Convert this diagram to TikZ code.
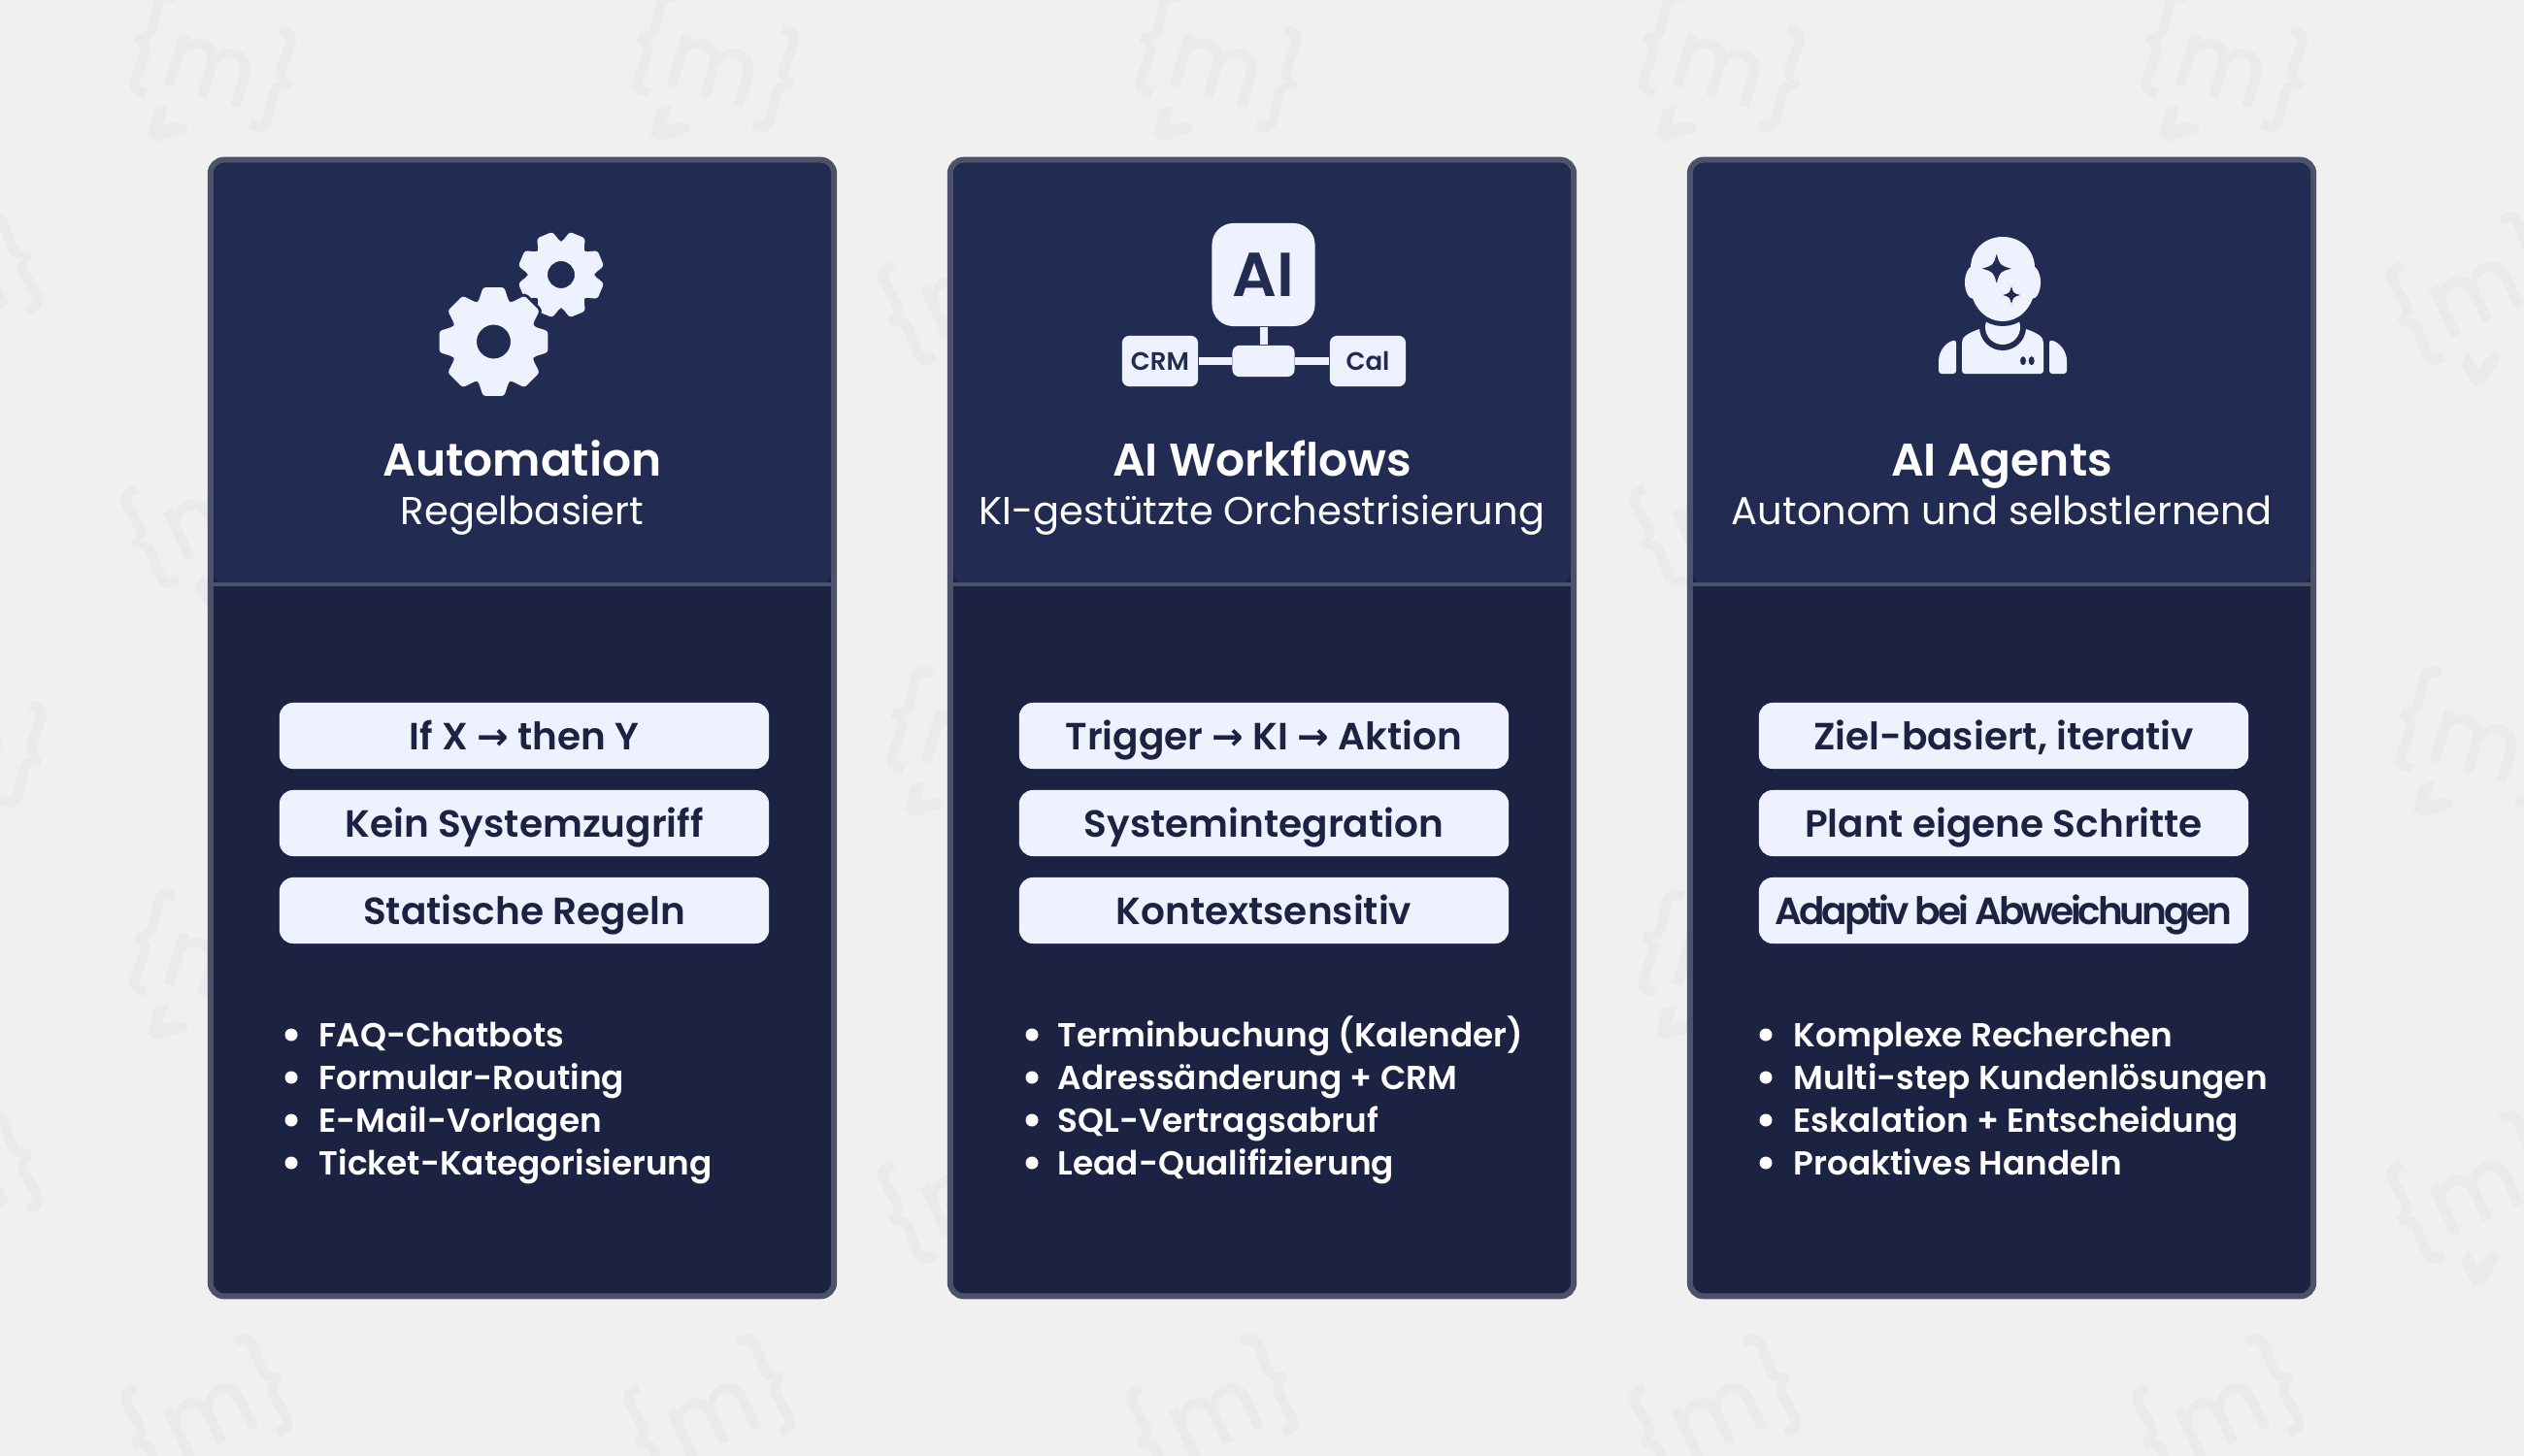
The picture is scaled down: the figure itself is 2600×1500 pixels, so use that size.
\documentclass[tikz,border=0pt]{standalone}
\usepackage{fontspec}
\setmainfont{Poppins}
\newfontfamily\medfont{Poppins Medium}
\newfontfamily\boldfont{Poppins SemiBold}
\newfontfamily\arrowfont{DejaVu Sans}
\usepackage{tikz}

\definecolor{bgfill}{HTML}{F0F0F0}
\definecolor{wmark}{HTML}{E9EAEC}
\definecolor{headfill}{HTML}{222C52}
\definecolor{bodyfill}{HTML}{1C2342}
\definecolor{rimcol}{HTML}{4B5269}
\definecolor{iconcol}{HTML}{EEF2FF}

\tikzstyle{card}=[draw=rimcol, fill=bodyfill, line width=0.06cm,
                  rounded corners=0.14cm, minimum width=6.42cm,
                  minimum height=11.7cm, inner sep=0pt]
\tikzstyle{pill}=[fill=iconcol, rounded corners=0.14cm, minimum width=5.04cm,
                  minimum height=0.68cm, inner sep=0pt, text=bodyfill,
                  text height=0.39cm, text depth=0.10cm,
                  font=\boldfont\fontsize{11.1}{13}\selectfont]
\tikzstyle{title}=[anchor=base, text=white, inner sep=0pt,
                   font=\boldfont\fontsize{13.4}{16}\selectfont]
\tikzstyle{subtitle}=[anchor=base, text=white, inner sep=0pt,
                      font=\fontsize{11.4}{13}\selectfont]
\tikzstyle{item}=[anchor=base west, text=white, inner sep=0pt,
                  font=\boldfont\fontsize{9.75}{12}\selectfont]
\tikzstyle{dot}=[circle, fill=white, minimum size=0.13cm, inner sep=0pt]
\tikzstyle{iconbox}=[fill=iconcol, inner sep=0pt, text=headfill]
\tikzstyle{iconedge}=[draw=iconcol, line width=0.08cm]
\tikzstyle{wmtext}=[anchor=base, inner sep=0pt, text=wmark, transform shape, xscale=0.92,
                    font=\medfont\fontsize{28.5}{32}\selectfont]

\newcommand{\arr}{{\arrowfont\bfseries →}}
% gear: x, y, outer radius, root radius, turn, hole
\newcommand{\gearicon}[7][iconcol]{%
  \begin{scope}[shift={(#2,#3)}]
    \fill [#1, even odd rule, rounded corners=0.8pt]
      ({#6-21}:#5) \foreach \t in {0,45,...,315} {
        -- ({\t+#6-21}:#5) -- ({\t+#6-11}:#4) -- ({\t+#6+11}:#4) -- ({\t+#6+21}:#5)
      } -- cycle (0,0) circle (#7);
  \end{scope}}
\newcommand{\sparkle}[3]{%
  \fill [headfill] (#1,#2-#3) .. controls (#1+0.22*#3,#2-0.22*#3) .. (#1+#3,#2)
    .. controls (#1+0.22*#3,#2+0.22*#3) .. (#1,#2+#3)
    .. controls (#1-0.22*#3,#2+0.22*#3) .. (#1-#3,#2)
    .. controls (#1-0.22*#3,#2-0.22*#3) .. (#1,#2-#3) -- cycle;}
\newcommand{\headpath}{(2030,276) .. controls (2030,258) and (2044,244) .. (2063,244)
    .. controls (2082,244) and (2096,258) .. (2096,276)
    -- (2096,300) .. controls (2092,320) and (2078,331) .. (2063,331)
    .. controls (2048,331) and (2034,320) .. (2030,300) -- cycle}

\begin{document}
\begin{tikzpicture}[x=0.01cm, y=-0.01cm]
    \useasboundingbox (0,0) rectangle (2600,1500);
    \fill [bgfill] (0,0) rectangle (2600,1500);

    % watermark
    \begin{scope}
      \clip (0,0) rectangle (2600,1500);
      \foreach \n/\wx/\wy/\wr in {a/217/72/-17,b/735/72/-17,c/1253/72/-17,d/1771/72/-17,e/2289/72/-17,
                                  f/-40/305/25,g/997/305/25,h/2551/305/25,
                                  i/217/535/25,j/1771/535/25,
                                  k/-40/768/-17,l/997/768/-17,m/2551/768/-17,
                                  n/217/998/-17,o/1771/998/-17,
                                  p/-40/1231/25,q/997/1231/25,r/2551/1231/25,
                                  s/217/1461/25,t/735/1461/25,u/1253/1461/25,v/1771/1461/25,w/2289/1461/25} {
        \begin{scope}[shift={(\wx,\wy)}, rotate=\wr]
          \node (wm\n) at (0,29) [wmtext]{\{m\}};
          \fill [wmark] (-31,47) -- (-44,57) -- (-42,84) -- (-30,86) -- (-4,67)
            -- (-8,61) -- (-18,62) -- (-31,70) -- cycle;
        \end{scope}
      }
    \end{scope}

    % cards
    \foreach \nm/\cx in {one/538,two/1300,three/2062} {
      \node (\nm) at (\cx,750) [card]{};
      \fill [headfill, rounded corners=0.12cm] (\cx-318,602) -- (\cx-318,168)
        -- (\cx+318,168) -- (\cx+318,602) -- cycle;
      \draw [rimcol, line width=0.04cm] (\cx-318,602) -- (\cx+318,602);
    }

    % gears
    \gearicon{578}{283}{45}{34}{22.5}{14}
    \begin{scope}
      \gearicon[headfill, draw=headfill, line width=0.06cm]{508.5}{352}{57}{44}{0}{1}
      \gearicon{508.5}{352}{57}{44}{0}{17.5}
    \end{scope}

    % ai icon
    \node (aibox) at (1301.5,283) [iconbox, rounded corners=0.22cm, minimum size=1.06cm,
      font=\boldfont\fontsize{18.2}{20}\selectfont]{AI};
    \node (hub) at (1301.5,372) [iconbox, rounded corners=0.07cm, minimum width=0.64cm,
      minimum height=0.32cm]{};
    \node (crmbox) at (1195,372) [iconbox, rounded corners=0.07cm, minimum width=0.78cm,
      minimum height=0.52cm, font=\boldfont\fontsize{7.4}{9}\selectfont]{CRM};
    \node (calbox) at (1409,372) [iconbox, rounded corners=0.07cm, minimum width=0.78cm,
      minimum height=0.52cm, font=\boldfont\fontsize{7.4}{9}\selectfont]{Cal};
    \foreach \u/\v in {aibox/hub,crmbox/hub,calbox/hub}
      \draw [iconedge] (\u) to (\v);

    % agent icon
    \fill [iconcol, rounded corners=0.03cm] (2021,385) -- (2021,352) .. controls (2023,346) and (2030,342) .. (2042,338)
      -- (2084,338) .. controls (2096,342) and (2103,346) .. (2105,352) -- (2105,385) -- cycle;
    \fill [iconcol, rounded corners=0.03cm] (2015,385) -- (2015,350) .. controls (2004,353) and (1997,362) .. (1997,375)
      -- (1997,385) -- cycle;
    \fill [iconcol, rounded corners=0.03cm] (2111,385) -- (2111,350) .. controls (2122,353) and (2129,362) .. (2129,375)
      -- (2129,385) -- cycle;
    \fill [headfill] (2063,337) circle (24);
    \fill [iconcol] (2063,337) circle (18);
    \draw [headfill, line width=0.10cm] \headpath;
    \fill [iconcol] (2033,291) ellipse (9 and 17);
    \fill [iconcol] (2093,291) ellipse (9 and 17);
    \fill [iconcol] \headpath;
    \sparkle{2056.7}{276.7}{15}
    \sparkle{2072}{304}{9}
    \fill [headfill] (2084,371.7) ellipse (3 and 4.5);
    \fill [headfill] (2092.7,371.7) ellipse (3 and 4.5);

    % titles
    \node (titleone) at (538,490) [title]{Automation};
    \node (subone) at (538,540) [subtitle]{Regelbasiert};
    \node (titletwo) at (1300,490) [title]{AI Workflows};
    \node (subtwo) at (1300,540) [subtitle]{KI-gestützte Orchestrisierung};
    \node (titlethree) at (2062,490) [title]{AI Agents};
    \node (subthree) at (2062,540) [subtitle]{Autonom und selbstlernend};

    % pills
    \node (pilla) at (540,758)  [pill]{If X \arr{} then Y};
    \node (pillb) at (540,848)  [pill]{Kein Systemzugriff};
    \node (pillc) at (540,938)  [pill]{Statische Regeln};
    \node (pilld) at (1302,758) [pill]{Trigger \arr{} KI \arr{} Aktion};
    \node (pille) at (1302,848) [pill]{Systemintegration};
    \node (pillf) at (1302,938) [pill]{Kontextsensitiv};
    \node (pillg) at (2064,758) [pill]{Ziel-basiert, iterativ};
    \node (pillh) at (2064,848) [pill]{Plant eigene Schritte};
    \node (pilli) at (2064,938) [pill]{\addfontfeature{LetterSpace=-8}Adaptiv bei Abweichungen};

    % lists
    \foreach \y in {1066,1110,1154,1198} {
      \node (dota\y) at (300,\y)  [dot]{};
      \node (dotb\y) at (1063,\y) [dot]{};
      \node (dotc\y) at (1819,\y) [dot]{};
    }
    \node (ia) at (328,1078) [item]{FAQ-Chatbots};
    \node (ib) at (328,1122) [item]{Formular-Routing};
    \node (ic) at (328,1166) [item]{E-Mail-Vorlagen};
    \node (id) at (328,1210) [item]{Ticket-Kategorisierung};
    \node (ie) at (1089,1078) [item]{Terminbuchung (Kalender)};
    \node (if) at (1089,1122) [item]{Adressänderung + CRM};
    \node (ig) at (1089,1166) [item]{SQL-Vertragsabruf};
    \node (ih) at (1089,1210) [item]{Lead-Qualifizierung};
    \node (ii) at (1847,1078) [item]{Komplexe Recherchen};
    \node (ij) at (1847,1122) [item]{Multi-step Kundenlösungen};
    \node (ik) at (1847,1166) [item]{Eskalation + Entscheidung};
    \node (il) at (1847,1210) [item]{Proaktives Handeln};
\end{tikzpicture}
\end{document}
